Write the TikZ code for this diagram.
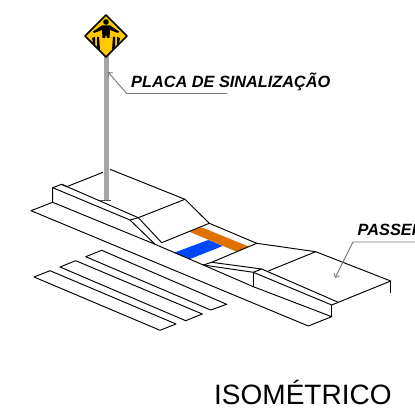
\documentclass[tikz,border=0pt]{standalone}
\usepackage{fontspec}
\setmainfont{Liberation Sans}
\usetikzlibrary{arrows.meta}
\definecolor{signyellow}{RGB}{255,200,0}
\definecolor{bandorange}{RGB}{224,112,0}
\definecolor{bandblue}{RGB}{0,72,255}
\definecolor{leadergray}{RGB}{120,120,120}
\definecolor{polegray}{RGB}{165,165,170}
\tikzset{%
  >={Straight Barb[width=2.2mm,length=1.2mm]},
  % Specifications for style of lines and labels:
     outline/.style = {draw=black, line width=0.95pt, line join=round},
      leader/.style = {draw=leadergray, line width=0.9pt},
   calllabel/.style = {anchor=base west, inner sep=0pt, font=\bfseries\itshape\fontsize{16.3pt}{18pt}\selectfont},
  titlelabel/.style = {anchor=base west, inner sep=0pt, font=\fontsize{28pt}{32pt}\selectfont}
}
\begin{document}
\begin{tikzpicture}[x=1pt,y=-1pt]
  \useasboundingbox (0,0) rectangle (415,411);
  \clip (0,0) rectangle (415,411);
  % Specification of corner points
  \coordinate (roadA) at (31,210.7);
  \coordinate (roadB) at (308.3,326);
  \coordinate (roadC) at (331.7,316.7);
  \coordinate (curbA) at (52.7,202.3);
  \coordinate (curbB) at (52.7,187.7);
  \coordinate (curbC) at (61.7,184.3);
  \coordinate (walkA) at (66.7,186.7);
  \coordinate (walkB) at (103,172.3);
  \coordinate (walkC) at (110,169.3);
  \coordinate (walkD) at (185,199.3);
  \coordinate (walkE) at (138.3,217.7);
  \coordinate (walkF) at (130,220);
  \coordinate (rampA) at (155,244.3);
  \coordinate (rampB) at (161.7,242.7);
  \coordinate (rampC) at (209.3,223.3);
  \coordinate (rampD) at (256.7,243.3);
  \coordinate (rampE) at (203.3,265);
  \coordinate (rampF) at (211.7,262.3);
  \coordinate (rampG) at (253.3,272.3);
  \coordinate (rampH) at (253.3,286.7);
  \coordinate (rampI) at (261.7,269);
  \coordinate (rampJ) at (268.3,271);
  \coordinate (eastA) at (315.7,251.7);
  \coordinate (eastB) at (390.7,281);
  \coordinate (eastC) at (390.7,293.3);
  \coordinate (eastD) at (338.3,302.3);
  \coordinate (eastE) at (331.7,305);
  % Bands of the crossing
  \fill[bandorange] (189.3,231.7) -- (201.7,227.3) -- (249,246.7) -- (236.7,251.7) -- cycle;
  \fill[bandblue] (174,252.7) -- (208.3,240) -- (222.7,246) -- (190,259) -- cycle;
  % Platform and curbs
  \draw[outline] (roadA) -- (curbA) -- (rampA) -- (rampE) -- (rampH) -- (roadC) -- (roadB) -- cycle;
  \draw[outline] (curbA) -- (curbB) -- (curbC) -- (walkA) -- (walkB);
  \draw[outline] (curbB) -- (walkF) -- (rampA);
  \draw[outline] (curbC) -- (walkE) -- (rampB) -- (rampC) -- (walkD) -- (walkE);
  \draw[outline] (walkC) -- (walkD);
  \draw[outline] (walkF) -- (walkE);
  \draw[outline] (rampC) -- (rampD) -- (eastA) -- (eastB) -- (eastD) -- (rampI);
  \draw[outline] (eastB) -- (eastC);
  \draw[outline] (rampE) -- (rampF) -- (rampD);
  \draw[outline] (rampJ) -- (eastA);
  \draw[outline] (rampE) -- (rampG) -- (rampI) -- (rampF);
  \draw[outline] (rampG) -- (eastE) -- (eastD);
  \draw[outline] (rampG) -- (rampH);
  \draw[outline] (eastE) -- (roadC);
  % Stripes
  \draw[outline] (85.7,256.7) -- (101.7,250.3) -- (226.7,304.3) -- (210.7,310) -- cycle;
  \draw[outline] (60,267) -- (75.7,260.7) -- (202.3,314) -- (185.7,320.7) -- cycle;
  \draw[outline] (34,277) -- (50,270.7) -- (176,324) -- (160,330.3) -- cycle;
  % Pole and sign
  \fill[polegray] (103.5,55) rectangle (108.8,200);
  \draw[line width=1.1pt, black!70] (100,200.7) -- (110.7,200.7);
  \draw[fill=signyellow, draw=black, line width=1.5pt, line join=round] (106,15) -- (127,36) -- (106,57) -- (85,36) -- cycle;
  \fill[black] (106,22) circle (2.8);
  \fill[black] (102,25.5) -- (110,25.5) -- (119,31.5) -- (118,33) -- (110,30) -- (109.5,38) -- (107,38) -- (106,34) -- (105,38) -- (102.5,38) -- (102,30) -- (94,33) -- (93,31.5) -- cycle;
  \fill[black] (92,38) -- (95,37) -- (95,45) -- (93,43) -- cycle;
  \fill[black] (97,37) -- (99,37) -- (100,50) -- (97,47) -- cycle;
  \fill[black] (113,37) -- (115,37) -- (115,47) -- (112,50) -- cycle;
  \fill[black] (117,37) -- (120,38) -- (119,43) -- (117,45) -- cycle;
  % Leaders and labels
  \node (placa) [calllabel] at (131,87.3) {PLACA DE SINALIZAÇÃO};
  \coordinate (placaknee) at (126.7,93.5);
  \coordinate (placaend) at (227,93.5);
  \coordinate (placatip) at (108,72);
  \draw[leader, ->] (placaend) -- (placaknee) -- (placatip);
  \node (passeio) [calllabel] at (357.5,235.7) {PASSEIO};
  \coordinate (passeioknee) at (353,242);
  \coordinate (passeioend) at (415,242);
  \coordinate (passeiotip) at (335,278);
  \draw[leader, ->] (passeioend) -- (passeioknee) -- (passeiotip);
  \node (isometrico) [titlelabel] at (214,405) {ISOMÉTRICO};
\end{tikzpicture}
\end{document}
